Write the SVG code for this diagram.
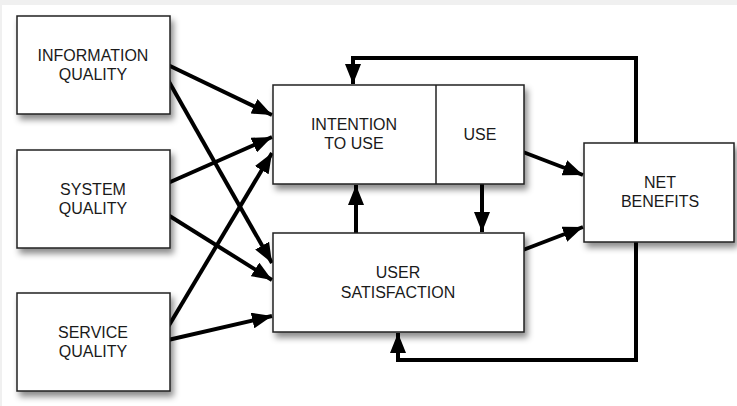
<svg xmlns="http://www.w3.org/2000/svg" width="737" height="406" viewBox="0 0 737 406">
<defs>
<filter id="sh" x="-10%" y="-10%" width="130%" height="140%">
<feDropShadow dx="3" dy="5" stdDeviation="3" flood-color="#000" flood-opacity="0.45"/>
</filter>
<marker id="ah" markerUnits="userSpaceOnUse" markerWidth="22" markerHeight="16" refX="20" refY="8" orient="auto">
<path d="M0,0 L20,8 L0,16 Z" fill="#000"/>
</marker>
<style>
.box{fill:#fff;stroke:#222;stroke-width:1.5;filter:url(#sh)}
.t{font-family:"Liberation Sans",Arial,sans-serif;font-size:16px;fill:#1a1a1a;text-anchor:middle}
.c{fill:none;stroke:#000;stroke-width:4}
.a{marker-end:url(#ah)}
</style>
</defs>
<rect x="0" y="0" width="737" height="406" fill="#fff"/>
<rect x="0" y="0" width="737" height="5" fill="#f0f0f0"/>
<rect x="0" y="0" width="2" height="406" fill="#f0f0f0"/>

<g id="connectors">
<line class="c a" x1="168" y1="65" x2="272" y2="115"/>
<line class="c a" x1="168" y1="80" x2="272" y2="263"/>
<line class="c a" x1="168" y1="183" x2="272" y2="137"/>
<line class="c a" x1="168" y1="215" x2="272" y2="280"/>
<line class="c a" x1="168" y1="327" x2="272" y2="153"/>
<line class="c a" x1="168" y1="340" x2="272" y2="316"/>
<line class="c a" x1="356" y1="233" x2="356" y2="185"/>
<line class="c a" x1="482" y1="184" x2="482" y2="232"/>
<line class="c a" x1="523" y1="152" x2="583" y2="175"/>
<line class="c a" x1="523" y1="250" x2="583" y2="227"/>
<polyline class="c a" points="636,143 636,58 353,58 353,84"/>
<polyline class="c a" points="636,242 636,360 398,360 398,333"/>
</g>

<g id="info-quality">
<rect class="box" x="17" y="16" width="153" height="98"/>
<text class="t" x="93" y="61">INFORMATION</text>
<text class="t" x="93" y="80">QUALITY</text>
</g>
<g id="system-quality">
<rect class="box" x="17" y="150" width="153" height="98"/>
<text class="t" x="93" y="195">SYSTEM</text>
<text class="t" x="93" y="214">QUALITY</text>
</g>
<g id="service-quality">
<rect class="box" x="17" y="293" width="153" height="98"/>
<text class="t" x="93" y="338">SERVICE</text>
<text class="t" x="93" y="357">QUALITY</text>
</g>
<g id="intention-use">
<rect class="box" x="273" y="85" width="251" height="99"/>
<line x1="436" y1="85" x2="436" y2="184" stroke="#222" stroke-width="1.5"/>
<text class="t" x="354" y="130">INTENTION</text>
<text class="t" x="354" y="149">TO USE</text>
<text class="t" x="480" y="140">USE</text>
</g>
<g id="user-satisfaction">
<rect class="box" x="273" y="233" width="251" height="99"/>
<text class="t" x="398" y="278">USER</text>
<text class="t" x="398" y="298">SATISFACTION</text>
</g>
<g id="net-benefits">
<rect class="box" x="584" y="143" width="150" height="99"/>
<text class="t" x="660" y="188">NET</text>
<text class="t" x="660" y="207">BENEFITS</text>
</g>
</svg>
